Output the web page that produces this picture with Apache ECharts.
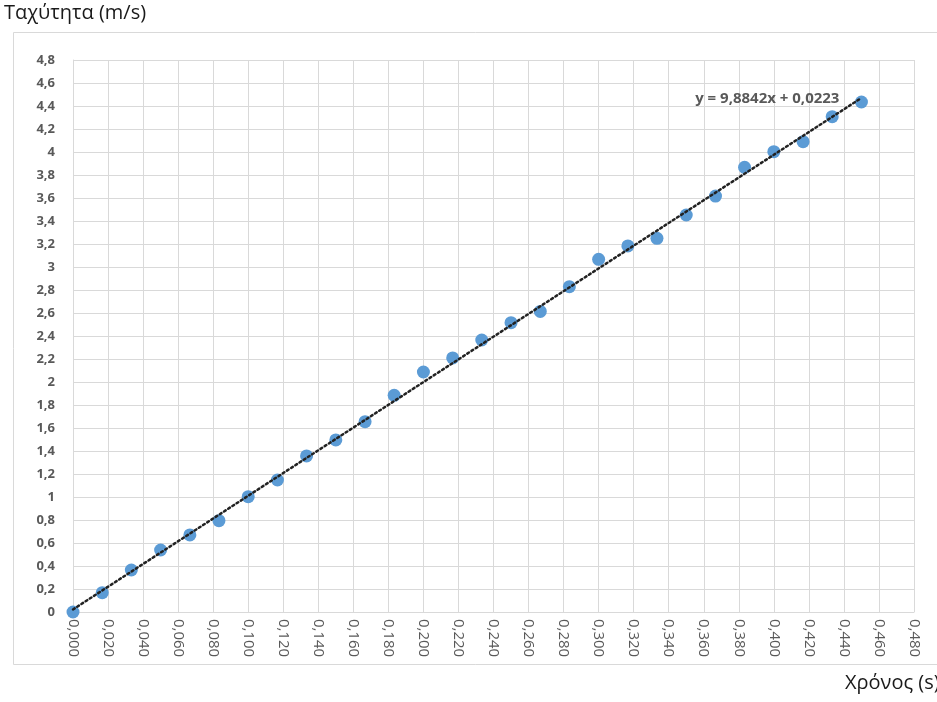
<!DOCTYPE html>
<html>
<head>
<meta charset="utf-8">
<script src="https://cdn.jsdelivr.net/npm/echarts@6/dist/echarts.min.js"></script>
<style>
html,body{margin:0;padding:0;background:#fff;}
#c{width:937px;height:702px;}
</style>
</head>
<body>
<div id="c"></div>
<script>
// Data
const times = [0, 0.0167, 0.0333, 0.05, 0.0667, 0.0833, 0.1, 0.1167, 0.1333, 0.15, 0.1667, 0.1833, 0.2, 0.2167, 0.2333, 0.25, 0.2667, 0.2833, 0.3, 0.3167, 0.3333, 0.35, 0.3667, 0.3833, 0.4, 0.4167, 0.4333, 0.45];
const speeds = [0, 0.168, 0.365, 0.539, 0.670, 0.794, 1.003, 1.148, 1.357, 1.496, 1.655, 1.884, 2.087, 2.209, 2.365, 2.516, 2.614, 2.829, 3.067, 3.183, 3.249, 3.452, 3.617, 3.867, 4.003, 4.090, 4.307, 4.435];
const trendSlope = 9.8842;
const trendIntercept = 0.0223;
const trendLabel = 'y = 9,8842x + 0,0223';
const yTitle = 'Ταχύτητα (m/s)';
const xTitle = 'Χρόνος (s)';

const points = times.map((t, i) => [t, speeds[i]]);
const tStart = times[0], tEnd = times[times.length - 1];
const trend = [[tStart, trendSlope * tStart + trendIntercept], [tEnd, trendSlope * tEnd + trendIntercept]];

const FONT = '"Open Sans", "DejaVu Sans", sans-serif';
const chart = echarts.init(document.getElementById('c'), null, {renderer: 'canvas'});
chart.setOption({
  animation: false,
  backgroundColor: '#fff',
  grid: {left: 73, right: 23, top: 60, bottom: 90, containLabel: false},
  graphic: [
    {type: 'rect', shape: {x: 13.5, y: 32.5, width: 940, height: 632}, style: {fill: 'none', stroke: '#d9d9d9', lineWidth: 1}, z: -10},
    {type: 'text', left: 4, top: 3, style: {text: yTitle, font: '500 20px ' + FONT, fill: '#1a1a1a'}},
    {type: 'text', left: 845, top: 673, style: {text: xTitle, font: '500 20px ' + FONT, fill: '#1a1a1a'}}
  ],
  xAxis: {
    type: 'value', min: 0, max: 0.48, interval: 0.02,
    axisLine: {show: true, lineStyle: {color: '#d9d9d9'}},
    axisTick: {show: false},
    splitLine: {show: true, lineStyle: {color: '#d9d9d9', width: 1}},
    axisLabel: {
      rotate: -90, margin: 7, color: '#595959', fontFamily: FONT, fontSize: 15,
      formatter: v => v.toFixed(3).replace('.', ',')
    }
  },
  yAxis: {
    type: 'value', min: 0, max: 4.8, interval: 0.2,
    axisLine: {show: true, lineStyle: {color: '#d9d9d9'}},
    axisTick: {show: false},
    splitLine: {show: true, lineStyle: {color: '#d9d9d9', width: 1}},
    axisLabel: {
      margin: 18, color: '#595959', fontFamily: FONT, fontSize: 13, fontWeight: 'bold',
      formatter: v => String(parseFloat(v.toFixed(1))).replace('.', ',')
    }
  },
  series: [
    {
      type: 'scatter', data: points, symbol: 'circle', symbolSize: 13,
      itemStyle: {color: '#5b9bd5', opacity: 1}, z: 2
    },
    {
      type: 'line', data: trend, showSymbol: false, symbol: 'none', z: 3,
      lineStyle: {color: '#222', width: 2.5, type: [2, 3], cap: 'round'},
      endLabel: {
        show: true, formatter: trendLabel, color: '#595959', fontFamily: FONT,
        fontSize: 15, fontWeight: 'bold', distance: 0, align: 'right', offset: [-22, 1]
      }
    }
  ]
});
</script>
</body>
</html>
